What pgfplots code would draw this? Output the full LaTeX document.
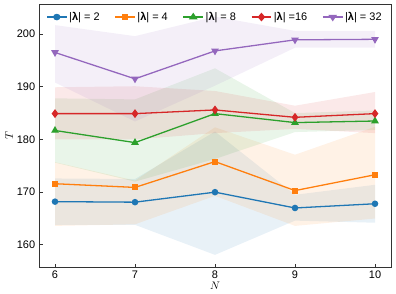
\documentclass[border=0pt]{standalone}
\usepackage{pgfplots}
\pgfplotsset{compat=1.18}
\usepackage{fontspec}
\setmainfont{Liberation Sans}
\usetikzlibrary{calc}
\definecolor{cb}{HTML}{1F77B4}
\definecolor{co}{HTML}{FF7F0E}
\definecolor{cg}{HTML}{2CA02C}
\definecolor{cr}{HTML}{D62728}
\definecolor{cp}{HTML}{9467BD}
\definecolor{axc}{HTML}{333333}
\begin{document}
\fontsize{11}{13}\selectfont
\begin{tikzpicture}[x=1bp,y=1bp]
\begin{axis}[
  scale only axis,
  width=352bp, height=263bp,
  xmin=5.8, xmax=10.2, ymin=155.8, ymax=205.7,
  xtick={6,7,8,9,10}, ytick={160,170,180,190,200},
  tick align=inside, tick pos=left,
  major tick length=3.5bp,
  axis line style={axc, line width=0.9pt},
  tick style={axc, line width=0.8pt},
  /pgf/number format/assume math mode=true,
  ticklabel style={font=\fontsize{11}{13}\selectfont},
  xlabel={$N$}, ylabel={$T$},
  xlabel style={at={(axis description cs:0.5,-0.072)}, anchor=center},
  ylabel style={at={(axis description cs:-0.085,0.5)}, anchor=center},
  legend columns=5,
  legend style={draw=none, fill=none, at={(0.5,0.985)}, anchor=north,
    font=\fontsize{11}{13}\selectfont, /tikz/every even column/.append style={column sep=13bp}},
  legend image post style={xscale=1.15},
  legend cell align=left,
  every axis plot/.append style={line width=1.3pt},
]
% bands
\addplot[forget plot, draw=none, fill=cb, fill opacity=0.1] coordinates {(6,172.6)(7,172.5)(8,181.5)(9,169.5)(10,171.4)(10,164.2)(9,164.6)(8,158.1)(7,163.8)(6,163.8)} -- cycle;
\addplot[forget plot, draw=none, fill=co, fill opacity=0.1] coordinates {(6,175.7)(7,172.2)(8,182.3)(9,177.1)(10,182.4)(10,165.0)(9,163.6)(8,169.3)(7,163.9)(6,163.6)} -- cycle;
\addplot[forget plot, draw=none, fill=cg, fill opacity=0.1] coordinates {(6,187.8)(7,187.6)(8,193.5)(9,185.0)(10,185.5)(10,181.8)(9,181.4)(8,176.3)(7,172.0)(6,175.6)} -- cycle;
\addplot[forget plot, draw=none, fill=cr, fill opacity=0.1] coordinates {(6,189.9)(7,190.1)(8,189.2)(9,186.4)(10,189.0)(10,181.2)(9,182.0)(8,181.2)(7,180.0)(6,180.0)} -- cycle;
\addplot[forget plot, draw=none, fill=cp, fill opacity=0.1] coordinates {(6,201.7)(7,199.6)(8,203.3)(9,200.6)(10,200.6)(10,197.4)(9,197.4)(8,190.2)(7,183.4)(6,190.8)} -- cycle;
% lines
\addplot[cb, mark=*, mark size=2.6bp] coordinates {(6,168.2)(7,168.1)(8,170.0)(9,167.0)(10,167.8)};
\addlegendentry{|\textbf{λ}| = 2}
\addplot[co, mark=square*, mark size=2.4bp] coordinates {(6,171.6)(7,170.9)(8,175.8)(9,170.3)(10,173.3)};
\addlegendentry{|\textbf{λ}| = 4}
\addplot[cg, mark=triangle*, mark size=3.2bp] coordinates {(6,181.7)(7,179.4)(8,184.9)(9,183.2)(10,183.5)};
\addlegendentry{|\textbf{λ}| = 8}
\addplot[cr, mark=diamond*, mark size=3.4bp] coordinates {(6,184.9)(7,184.9)(8,185.6)(9,184.2)(10,184.9)};
\addlegendentry{|\textbf{λ}| =16}
\addplot[cp, mark=triangle*, mark options={rotate=180}, mark size=3.2bp] coordinates {(6,196.5)(7,191.5)(8,196.8)(9,198.9)(10,199.0)};
\addlegendentry{|\textbf{λ}| = 32}
\end{axis}
\path[use as bounding box] ($(current axis.south west)+(-39bp,-25bp)$) rectangle ($(current axis.north east)+(5bp,4bp)$);
\end{tikzpicture}
\end{document}
